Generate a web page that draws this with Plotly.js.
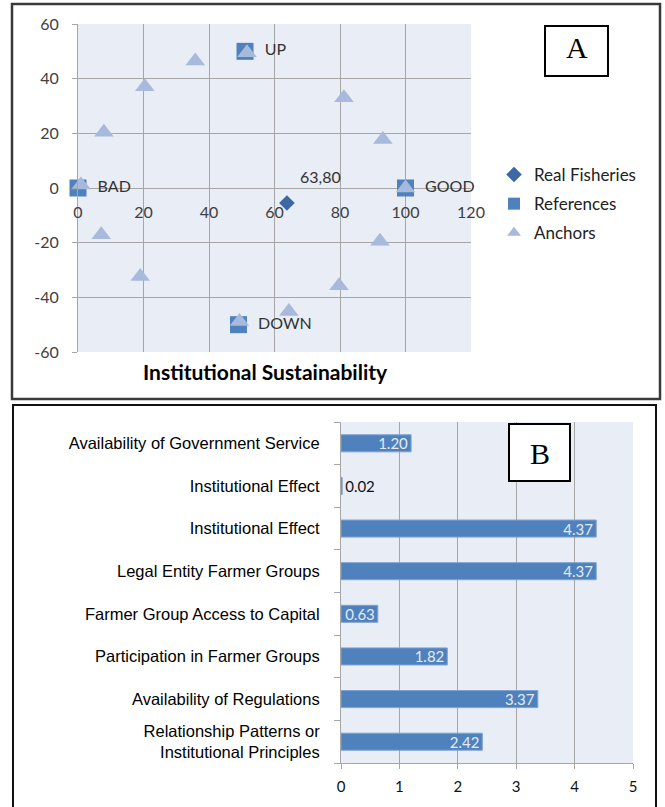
<!DOCTYPE html>
<html><head><meta charset="utf-8">
<script src="https://cdn.plot.ly/plotly-3.0.1.min.js"></script>
<style>html,body{margin:0;padding:0;background:#fff}#chart{width:665px;height:807px}</style>
</head><body><div id="chart"></div>
<script>
// ---- Chart A data ----
const realX = [63.8];
const realY = [-5.5];
const realText = ['63,80'];
const refX = [0, 100, 51, 49];
const refY = [0, 0, 50, -50];
const refText = ['BAD', 'GOOD', 'UP', 'DOWN'];
const anchorX = [0.9, 51.6, 100, 49.3, 7.9, 20.4, 35.8, 81.2, 93.1, 7.1, 19.0, 64.4, 79.7, 92.2];
const anchorY = [1.1, 49.5, 0, -48.8, 20.4, 37.0, 46.5, 33.0, 17.7, -17.1, -32.4, -45.2, -35.8, -19.5];
const aXTicks = [0, 20, 40, 60, 80, 100, 120];
const aYTicks = [-60, -40, -20, 0, 20, 40, 60];
const aYTickText = ['-60', '-40', '-20', '0', '20', '40', '60'];

// ---- Chart B data ----
const bCategories = ['Availability of Government Service', 'Institutional Effect', 'Institutional Effect',
  'Legal Entity Farmer Groups', 'Farmer Group Access to Capital', 'Participation in Farmer Groups',
  'Availability of Regulations', 'Relationship Patterns or<br>Institutional Principles'];
const bValues = [1.20, 0.02, 4.37, 4.37, 0.63, 1.82, 3.37, 2.42];
const bXTicks = [0, 1, 2, 3, 4, 5];

const W = 665, H = 807;
const px = x => x / W;
const py = y => 1 - y / H;
const fontA = 'Lato, "Open Sans", sans-serif';
const fontB = '"Liberation Sans", Arial, sans-serif';
const bIdx = bCategories.map((c, i) => i);
const bBounds = bCategories.map((c, i) => i - 0.5).concat([bCategories.length - 0.5]);

const traces = [
  {type: 'scatter', mode: 'markers', name: 'Real Fisheries', x: realX, y: realY,
   marker: {symbol: 'diamond', size: 12, color: '#3C68A4'}, legendgroup: 'g1', xaxis: 'x', yaxis: 'y', cliponaxis: false},
  {type: 'scatter', mode: 'markers+text', name: 'References', x: refX, y: refY, text: refText,
   texttemplate: '\u2002%{text}',
   textposition: 'middle right', textfont: {family: fontA, size: 16, color: '#333'},
   marker: {symbol: 'square', size: 17, color: '#4F81BD'}, legendgroup: 'g2', xaxis: 'x', yaxis: 'y', cliponaxis: false},
  {type: 'scatter', mode: 'markers', name: 'Anchors', x: anchorX, y: anchorY,
   marker: {symbol: 'triangle-up', size: 17, color: '#A7B9DC'}, legendgroup: 'g3', xaxis: 'x', yaxis: 'y', cliponaxis: false},
  {type: 'bar', orientation: 'h', x: bValues, y: bIdx, xaxis: 'x2', yaxis: 'y2', showlegend: false,
   marker: {color: '#4F81BD', line: {color: '#7FA3D2', width: 1}},
   texttemplate: '%{x:.2f}', textposition: 'auto', insidetextanchor: 'end', constraintext: 'none',
   insidetextfont: {family: fontA, size: 15, color: '#E4EBF5'},
   outsidetextfont: {family: fontA, size: 15, color: '#111'}, cliponaxis: false},
  {type: 'scatter', mode: 'markers', x: [], y: [], xaxis: 'x2', yaxis: 'y3', showlegend: false}
];

const aDomY = [py(352), py(24)];
const bDomY = [py(763), py(422)];
const realLabels = realText.map((t, i) => ({
  xref: 'x', yref: 'y', x: realX[i], y: realY[i], text: t, showarrow: false,
  xanchor: 'left', yanchor: 'middle', xshift: 11, yshift: 27,
  font: {family: fontA, size: 16, color: '#333'}
}));
const layout = {
  width: W, height: H, margin: {l: 0, r: 0, t: 0, b: 0},
  paper_bgcolor: '#ffffff', plot_bgcolor: '#E9EDF5',
  showlegend: true,
  legend: {x: px(494), y: py(157), xanchor: 'left', yanchor: 'top', traceorder: 'grouped', tracegroupgap: 4,
           font: {family: fontA, size: 17, color: '#222'}, bgcolor: 'rgba(0,0,0,0)', itemwidth: 30,
           itemsizing: 'constant'},
  xaxis: {domain: [px(78), px(471)], range: [0, 120], tickvals: aXTicks, anchor: 'free',
          position: (aDomY[0] + aDomY[1]) / 2, showgrid: true, gridcolor: '#A6A6A6', gridwidth: 1,
          zeroline: true, zerolinecolor: '#A6A6A6', showline: false, ticks: '', ticklabelstandoff: 13,
          tickfont: {family: fontA, size: 16, color: '#404040'}, fixedrange: true},
  yaxis: {domain: aDomY, range: [-60, 60], tickvals: aYTicks, ticktext: aYTickText, anchor: 'x',
          showgrid: true, gridcolor: '#A6A6A6', zeroline: true, zerolinecolor: '#A6A6A6',
          showline: true, linecolor: '#A6A6A6', ticks: 'outside', ticklen: 5, tickcolor: '#A6A6A6',
          ticklabelstandoff: 10, tickfont: {family: fontA, size: 16, color: '#404040'}, fixedrange: true},
  xaxis2: {domain: [px(341), px(633)], range: [0, 5], tickvals: bXTicks, anchor: 'y2',
           showgrid: true, gridcolor: '#A6A6A6', zeroline: false, showline: true, linecolor: '#A6A6A6',
           ticks: 'outside', ticklen: 5, tickcolor: '#A6A6A6', ticklabelstandoff: 5,
           tickfont: {family: fontA, size: 15, color: '#111'}, fixedrange: true},
  yaxis2: {domain: bDomY, range: [7.5, -0.5], tickvals: bIdx, ticktext: bCategories, anchor: 'x2',
           showgrid: false, zeroline: false, showline: true, linecolor: '#A6A6A6', ticks: '',
           ticklabelstandoff: 17, tickfont: {family: fontB, size: 16.5, color: '#000'}, fixedrange: true},
  yaxis3: {domain: bDomY, range: [7.5, -0.5], overlaying: 'y2', anchor: 'x2', side: 'left',
           tickvals: bBounds, ticks: 'outside', ticklen: 6, tickcolor: '#A6A6A6', showticklabels: false,
           showgrid: false, zeroline: false, showline: false, fixedrange: true},
  bargap: 0.6,
  shapes: [
    {type: 'rect', xref: 'paper', yref: 'paper', x0: px(12), x1: px(660), y0: py(399), y1: py(4),
     line: {color: '#3a3a3a', width: 2.5}, fillcolor: 'rgba(0,0,0,0)'},
    {type: 'rect', xref: 'paper', yref: 'paper', x0: px(13), x1: px(656), y0: py(809), y1: py(405),
     line: {color: '#111', width: 2}, fillcolor: 'rgba(0,0,0,0)'},
    {type: 'rect', xref: 'paper', yref: 'paper', x0: px(545), x1: px(608), y0: py(76), y1: py(26),
     line: {color: '#000', width: 2}, fillcolor: '#ffffff'},
    {type: 'rect', xref: 'paper', yref: 'paper', x0: px(509), x1: px(570), y0: py(481), y1: py(424),
     line: {color: '#000', width: 2}, fillcolor: '#ffffff'}
  ],
  annotations: realLabels.concat([
    {xref: 'paper', yref: 'paper', x: px(265), y: py(372), xanchor: 'center', yanchor: 'middle',
     text: '<b>Institutional Sustainability</b>',
     showarrow: false, font: {family: fontA, size: 21, color: '#000'}},
    {xref: 'paper', yref: 'paper', x: px(576.5), y: py(48), xanchor: 'center', yanchor: 'middle',
     text: 'A', showarrow: false,
     font: {family: '"Liberation Serif", "DejaVu Serif", serif', size: 30, color: '#000'}},
    {xref: 'paper', yref: 'paper', x: px(539.5), y: py(453), xanchor: 'center', yanchor: 'middle',
     text: 'B', showarrow: false,
     font: {family: '"Liberation Serif", "DejaVu Serif", serif', size: 30, color: '#000'}}
  ])
};

Plotly.newPlot('chart', traces, layout, {staticPlot: true, displayModeBar: false});
</script></body></html>
